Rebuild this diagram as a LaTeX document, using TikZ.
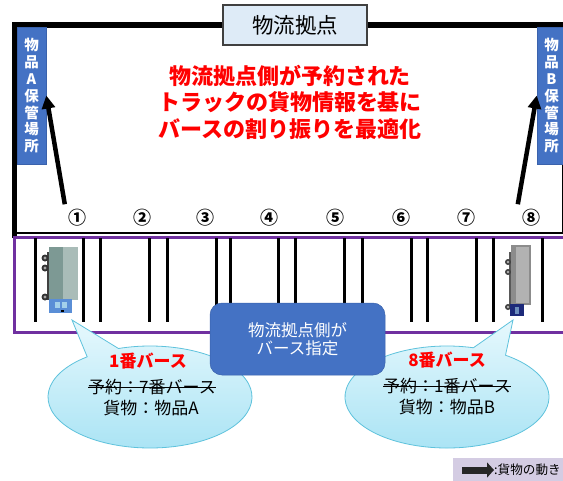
\documentclass[tikz,border=0pt]{standalone}
\usepackage{fontspec}
\newfontfamily\jp{Noto Sans CJK JP}
\usetikzlibrary{arrows.meta}

\definecolor{boxblue}{HTML}{4472C4}
\definecolor{boxedge}{HTML}{3A62AC}
\definecolor{titlefill}{HTML}{DEEBF7}
\definecolor{berthpurple}{HTML}{7030A0}
\definecolor{bubbletop}{HTML}{E6F8FD}
\definecolor{bubblebot}{HTML}{A8E3F4}
\definecolor{bubbleline}{HTML}{5EC2DC}
\definecolor{legendfill}{HTML}{D4CCE3}
\definecolor{cargodark}{HTML}{7D9994}
\definecolor{cargolight}{HTML}{A9BCB8}
\definecolor{cabblue}{HTML}{5A8ED6}
\definecolor{cablight}{HTML}{A3D0EA}
\definecolor{cabnavy}{HTML}{1D2A7A}

\begin{document}
\begin{tikzpicture}[x=1pt,y=1pt,
  every node/.style={inner sep=0pt, font=\jp},
  sidebox/.style={fill=boxblue, draw=boxedge, line width=0.6pt,
    minimum width=29pt, minimum height=137pt, text=white, align=center,
    font=\jp\bfseries\fontsize{14.5}{17}\selectfont},
  berthline/.style={line width=3pt},
  flowarrow/.style={line width=4.5pt, -{Triangle[length=13pt,width=13pt]}},
  numlabel/.style={font=\jp\bfseries\fontsize{18}{18}\selectfont},
  bubble/.style={top color=bubbletop, bottom color=bubblebot, draw=bubbleline, line width=0.8pt},
  callouthead/.style={text=red, font=\jp\bfseries\fontsize{17}{17}\selectfont},
  callouttext/.style={font=\jp\fontsize{17}{17}\selectfont},
  strike/.style={line width=1pt}
]
\useasboundingbox (0,0) rectangle (563,-480);
\clip (0,0) rectangle (563,-480);

% warehouse outline
\draw[line width=6pt] (12,-25) -- (580,-25);
\draw[line width=5pt] (14.5,-22) -- (14.5,-238);
\draw[line width=2pt] (14.5,-233) -- (580,-233);
\draw[line width=1pt] (562,-160) -- (562,-233);

% berth apron
\draw[berthpurple, line width=3pt] (14.5,-237) rectangle (580,-332);
\foreach \x in {35,83,100,149,167,216,230,278,295,344,362,411,427,476,493,542}
  \draw[berthline] (\x,-238) -- (\x,-322);

% title
\node[draw=black!75, fill=titlefill, line width=1.5pt, minimum width=144pt,
  minimum height=40pt, font=\jp\fontsize{21.5}{22}\selectfont] (title) at (295,-25) {物流拠点};

% storage areas
\node[sidebox] (boxA) at (31.5,-95.5) {物\\品\\A\\保\\管\\場\\所};
\node[sidebox] (boxB) at (551.5,-95.5) {物\\品\\B\\保\\管\\場\\所};

% headline
\node[text=red, font=\jp\bfseries\fontsize{22}{26.5}\selectfont, align=center] (headline)
  at (290,-102) {物流拠点側が予約された\\トラックの貨物情報を基に\\バースの割り振りを最適化};

% berth numbers
\foreach \i/\x/\t in {1/77/①,2/142/②,3/205/③,4/269/④,5/335/⑤,6/401/⑥,7/466/⑦,8/531/⑧}
  \node[numlabel] (c\i) at (\x,-218) {\t};

% cargo movement
\draw[flowarrow] ([shift={(-3,5)}]c1.north west) -- (boxA.east);
\draw[flowarrow] ([shift={(-4,5)}]c8.north west) -- (boxB.west);

% truck at berth 1 (top view)
\fill[black!75] (46.5,-252) rectangle (50,-300);
\foreach \y in {-258,-268,-297} {
  \fill[black!80] (45,\y) circle (3.5);
  \fill[gray!70] (45,\y) circle (1.6);
}
\fill[cargodark] (49,-247) rectangle (63,-300);
\fill[cargolight] (63,-247) rectangle (78,-300);
\fill[cabblue] (49,-299) rectangle (72,-313);
\fill[cablight] (55,-302) rectangle (60,-308);
\fill[cablight] (62,-302) rectangle (67,-308);
\fill[black] (61,-310) rectangle (64,-312);

% truck at berth 8 (top view)
\fill[black!65] (508.5,-252) rectangle (512,-305);
\foreach \y in {-262,-272,-307} {
  \fill[black!75] (508,\y) circle (3);
  \fill[gray!60] (508,\y) circle (1.3);
}
\fill[black!45] (511,-245) rectangle (531,-305);
\fill[black!30] (516,-247) rectangle (529,-303);
\fill[cabnavy] (510,-304) rectangle (524,-316);
\fill[cablight!60!cabnavy] (515,-307) rectangle (519,-314);

% callouts
\path[bubble] ([shift={(128:102pt and 51pt)}]150,-397)
  arc[start angle=128, end angle=468, x radius=102pt, y radius=51pt] -- (72,-320) -- cycle;
\path[bubble] ([shift={(75:102pt and 51pt)}]447,-397)
  arc[start angle=75, end angle=415, x radius=102pt, y radius=51pt] -- (513,-320) -- cycle;

\node[callouthead] (b1) at (148,-361) {1番バース};
\node[callouttext] (r1) at (152,-387) {予約：7番バース};
\draw[strike] (r1.west) -- (r1.east);
\node[callouttext] (g1) at (151,-408) {貨物：物品A};

\node[callouthead] (b8) at (447,-360) {8番バース};
\node[callouttext] (r8) at (447,-386) {予約：1番バース};
\draw[strike] (r8.west) -- (r8.east);
\node[callouttext] (g8) at (447,-407) {貨物：物品B};

% berth assignment box
\node[fill=boxblue, draw=boxedge, line width=0.5pt, rounded corners=12pt,
  minimum width=175pt, minimum height=72pt, text=white, align=center,
  font=\jp\fontsize{16.5}{18}\selectfont] (assign) at (297.5,-339) {物流拠点側が\\バース指定};

% legend
\fill[legendfill] (453,-458) rectangle (580,-490);
\coordinate (legA) at (462,-470);
\node[anchor=west, font=\jp\fontsize{12.6}{14}\selectfont] (legtext) at (494,-470) {:貨物の動き};
\draw[black!85, line width=7pt, -{Triangle[length=7pt,width=15pt]}] (legA) -- (legtext.west);
\end{tikzpicture}
\end{document}
